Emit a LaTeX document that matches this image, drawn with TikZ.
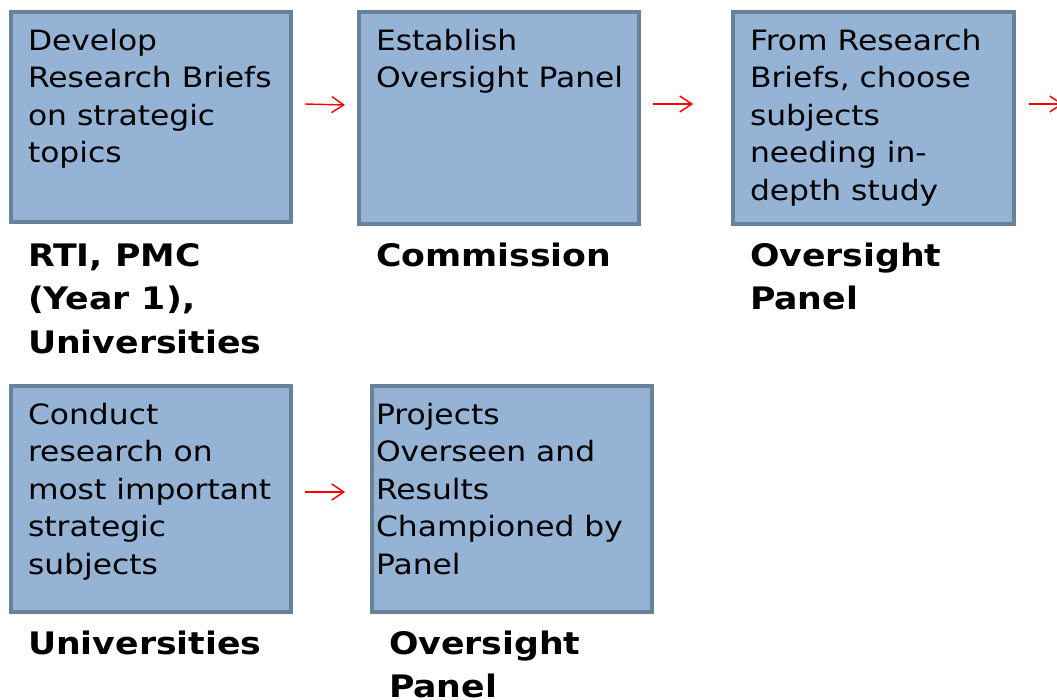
\documentclass[tikz,border=0pt]{standalone}
\usepackage{fontspec}
\usetikzlibrary{arrows.meta}
\newfontfamily\vf[FakeStretch=1.12]{DejaVu Sans}
\definecolor{boxfill}{RGB}{149,179,212}
\definecolor{boxline}{RGB}{106,130,153}
\newcommand\topstrut{\rule{0pt}{30pt}}
\tikzset{
  box/.style={draw=boxline, fill=boxfill, line width=4pt, anchor=north west,
    inner sep=0pt, outer sep=0pt, minimum width=280pt},
  txt/.style={anchor=north west, inner sep=0pt, outer sep=0pt, align=left,
    font=\vf\fontsize{28}{37.5}\selectfont},
  lbl/.style={anchor=north west, inner sep=0pt, outer sep=0pt, align=left,
    font=\vf\bfseries\fontsize{31}{43}\selectfont},
  arr/.style={draw=red, line width=1.4pt, -{Straight Barb[length=12pt,width=16pt,line width=1.4pt]}}
}
\begin{document}
\begin{tikzpicture}[x=1pt,y=-1pt]
\useasboundingbox (0,0) rectangle (1057,700);
\clip (0,0) rectangle (1057,700);
% boxes
\node[box, minimum height=210pt] (b1) at (11,12) {};
\node[box, minimum height=212pt] (b2) at (359,12) {};
\node[box, minimum height=212pt, minimum width=281pt] (b3) at (733,12) {};
\node[box, minimum height=226pt] (b4) at (11,386) {};
\node[box, minimum height=226pt] (b5) at (372,386) {};
% box texts
\node[txt] (t1) at (28,20.5) {\topstrut Develop\\Research Briefs\\on strategic\\topics};
\node[txt] (t2) at (376,20.5) {\topstrut Establish\\Oversight Panel};
\node[txt] (t3) at (750,20.5) {\topstrut From Research\\Briefs, choose\\subjects\\needing in-\\depth study};
\node[txt] (t4) at (28,394) {\topstrut Conduct\\research on\\most important\\strategic\\subjects};
\node[txt] (t5) at (376,394) {\topstrut Projects\\Overseen and\\Results\\Championed by\\Panel};
% labels
\node[lbl] (l1) at (28,237) {\topstrut RTI, PMC\\(Year 1),\\Universities};
\node[lbl] (l2) at (376,237) {\topstrut Commission};
\node[lbl] (l3) at (750,237) {\topstrut Oversight\\Panel};
\node[lbl] (l4) at (28,624) {\topstrut Universities};
\node[lbl] (l5) at (389,624) {\topstrut Oversight\\Panel};
% arrows
\coordinate (out3) at (1063,104);
\draw[arr] ([xshift=14pt,yshift=13pt]b1.east) -- ([xshift=-14pt,yshift=13pt]b2.west);
\draw[arr] ([xshift=14pt,yshift=14pt]b2.east) -- ([xshift=-40pt,yshift=14pt]b3.west);
\draw[arr] ([xshift=15pt,yshift=14pt]b3.east) -- (out3);
\draw[arr] ([xshift=14pt,yshift=7pt]b4.east) -- ([xshift=-27pt,yshift=7pt]b5.west);
\end{tikzpicture}
\end{document}
